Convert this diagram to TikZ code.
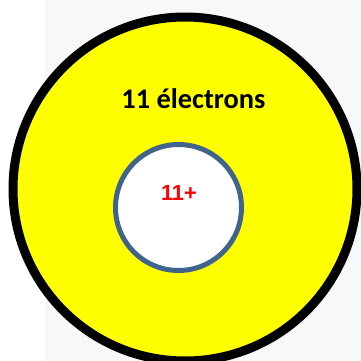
\documentclass[tikz,border=0pt]{standalone}
\usepackage{fontspec}
\setmainfont{Carlito}
\newfontfamily\arialfont{Liberation Sans}
\usetikzlibrary{positioning}
\definecolor{bggray}{HTML}{F7F8FA}
\definecolor{coreblue}{HTML}{41648C}
\definecolor{nucred}{HTML}{FF0000}
\definecolor{shellyellow}{HTML}{FFFF00}
\begin{document}
\begin{tikzpicture}[x=1bp, y=-1bp,
  shell/.style={circle, draw=black, line width=9bp, fill=shellyellow, minimum size=344bp, inner sep=0pt},
  core/.style={circle, draw=coreblue, line width=5bp, fill=white, minimum size=126bp, inner sep=0pt},
  shelltxt/.style={anchor=base, inner sep=0pt, font=\bfseries\fontsize{28.5}{28.5}\selectfont},
  coretxt/.style={anchor=base, inner sep=0pt, text=nucred, font=\arialfont\bfseries\fontsize{22}{22}\selectfont}]
\useasboundingbox (0,0) rectangle (361,361);
\clip (0,0) rectangle (361,361);
\fill[white] (0,0) rectangle (361,361);
\fill[bggray] (45,0) rectangle (361,361);
\node[shell] (atom) at (185,189) {};
\node[core] (nucleus) at (178.5,207.5) {};
\node[shelltxt] (electrons) at (193.5,108) {11 électrons};
\node[coretxt] (charge) at (179,200) {11+};
\end{tikzpicture}
\end{document}
